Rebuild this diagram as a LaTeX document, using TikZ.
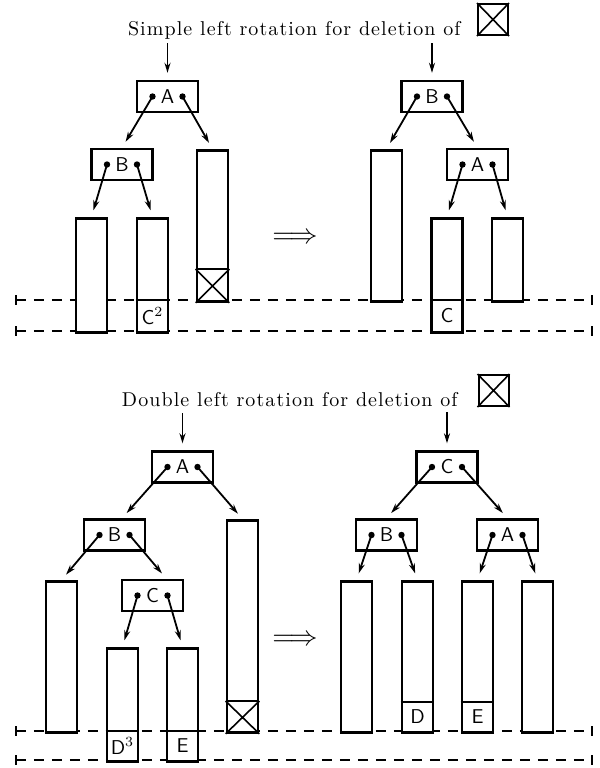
\documentclass[tikz,border=0pt]{standalone}
\usepackage{fontspec}
\usepackage{graphicx}
\newfontfamily\ttlfont[LetterSpace=5.5]{lmroman10-regular.otf}
\usetikzlibrary{arrows.meta,calc}
\tikzset{
  nbox/.style={draw, line width=1.2pt, minimum width=30.5pt, minimum height=15.5pt, inner sep=0pt, font=\sffamily},
  col/.style={draw, fill=white, line width=1.4pt, minimum width=15.5pt, minimum height=#1*0.5pt, inner sep=0pt, anchor=north},
  ptr/.style={-{Stealth[length=5pt,width=3pt]}, line width=0.9pt, shorten >=3.5pt},
  dotc/.style={circle, fill, inner sep=0pt, minimum size=3.2pt},
  sepl/.style={line width=1.4pt},
  xl/.style={line width=0.8pt},
  lvl/.style={line width=1pt, dash pattern=on 5pt off 4pt},
  tick/.style={line width=1pt},
  lbl/.style={font=\sffamily, inner sep=0pt},
  ttl/.style={inner sep=0pt, anchor=base east, font=\ttlfont},
  xbox/.style={draw, line width=1pt, minimum width=15pt, minimum height=15.5pt, inner sep=0pt},
  imp/.style={inner sep=0pt}
}
\begin{document}
\begin{tikzpicture}[x=0.5pt,y=-0.5pt]
\useasboundingbox (0,0) rectangle (600,768);
% level lines
\foreach \yy in {300,331,731,760}{
  \draw[lvl] (16,\yy) -- (592,\yy);
  \draw[tick] (16,\yy-5) -- (16,\yy+5);
  \draw[tick] (592,\yy-5) -- (592,\yy+5);
}
% ===== top title
\node[ttl] (t1) at (461,35) {Simple left rotation for deletion of};
\node[xbox] (x1) at (493,19.5) {};
\draw[xl] (x1.north west) -- (x1.south east) (x1.south west) -- (x1.north east);
% ===== top left tree
\coordinate (in1) at (167.5,43);
\node[nbox] (A1) at (167.5,96.5) {A};
\node[dotc] (A1l) at ([xshift=-7.5pt]A1.center) {};
\node[dotc] (A1r) at ([xshift=7.5pt]A1.center) {};
\node[nbox] (B1) at (122,164.5) {B};
\node[dotc] (B1l) at ([xshift=-7.5pt]B1.center) {};
\node[dotc] (B1r) at ([xshift=7.5pt]B1.center) {};
\node[col=114] (L1) at (91.5,217) {};
\node[col=114] (M1) at (152.5,217) {};
\node[col=151] (R1) at (212.5,149) {};
\draw[sepl] (M1.west |- 0,300) -- (M1.east |- 0,300);
\node[lbl] (lc2) at (152.5,316) {C$^2$};
\draw[sepl] (R1.west |- 0,269) -- (R1.east |- 0,269);
\draw[xl] (R1.west |- 0,269) -- (R1.south east) (R1.south west) -- (R1.east |- 0,269);
\draw[ptr] (in1) -- (A1.north);
\draw[ptr] (A1l.center) -- (B1.north);
\draw[ptr] (A1r.center) -- (R1.north);
\draw[ptr] (B1l.center) -- (L1.north);
\draw[ptr] (B1r.center) -- (M1.north);
\node[imp] (imp1) at (295,238) {\scalebox{1.4}{$\Longrightarrow$}};
% ===== top right tree
\coordinate (in2) at (432,43);
\node[nbox] (B2) at (432,96.5) {B};
\node[dotc] (B2l) at ([xshift=-7.5pt]B2.center) {};
\node[dotc] (B2r) at ([xshift=7.5pt]B2.center) {};
\node[nbox] (A2) at (477.5,164.5) {A};
\node[dotc] (A2l) at ([xshift=-7.5pt]A2.center) {};
\node[dotc] (A2r) at ([xshift=7.5pt]A2.center) {};
\node[col=151] (L2) at (386.5,149) {};
\node[col=114] (M2) at (447,217) {};
\node[col=83] (R2) at (507.5,217) {};
\draw[sepl] (M2.west |- 0,300) -- (M2.east |- 0,300);
\node[lbl] (lc) at (447,316) {C};
\draw[ptr] (in2) -- (B2.north);
\draw[ptr] (B2l.center) -- (L2.north);
\draw[ptr] (B2r.center) -- (A2.north);
\draw[ptr] (A2l.center) -- (M2.north);
\draw[ptr] (A2r.center) -- (R2.north);
% ===== bottom title
\node[ttl] (t2) at (458,406) {Double left rotation for deletion of};
\node[xbox] (x2) at (493.5,390.5) {};
\draw[xl] (x2.north west) -- (x2.south east) (x2.south west) -- (x2.north east);
% ===== bottom left tree
\coordinate (in3) at (182.5,413);
\node[nbox] (A3) at (182.5,467) {A};
\node[dotc] (A3l) at ([xshift=-7.5pt]A3.center) {};
\node[dotc] (A3r) at ([xshift=7.5pt]A3.center) {};
\node[nbox] (B3) at (114.5,535) {B};
\node[dotc] (B3l) at ([xshift=-7.5pt]B3.center) {};
\node[dotc] (B3r) at ([xshift=7.5pt]B3.center) {};
\node[nbox] (C3) at (152.5,595.5) {C};
\node[dotc] (C3l) at ([xshift=-7.5pt]C3.center) {};
\node[dotc] (C3r) at ([xshift=7.5pt]C3.center) {};
\node[col=212] (R3) at (242.5,519) {};
\node[col=151] (L3) at (61.5,580) {};
\node[col=113] (D3) at (122.5,647) {};
\node[col=113] (E3) at (182.5,647) {};
\draw[sepl] (R3.west |- 0,701) -- (R3.east |- 0,701);
\draw[xl] (R3.west |- 0,701) -- (R3.south east) (R3.south west) -- (R3.east |- 0,701);
\draw[sepl] (D3.west |- 0,731) -- (D3.east |- 0,731);
\draw[sepl] (E3.west |- 0,731) -- (E3.east |- 0,731);
\node[lbl] (ld3) at (122.5,746) {D$^3$};
\node[lbl] (le3) at (182.5,746) {E};
\draw[ptr] (in3) -- (A3.north);
\draw[ptr] (A3l.center) -- ([xshift=3.75pt]B3.north);
\draw[ptr] (A3r.center) -- (R3.north);
\draw[ptr] (B3l.center) -- (L3.north);
\draw[ptr] (B3r.center) -- ([xshift=7pt]C3.north);
\draw[ptr] (C3l.center) -- (D3.north);
\draw[ptr] (C3r.center) -- (E3.north);
\node[imp] (imp2) at (295,640) {\scalebox{1.4}{$\Longrightarrow$}};
% ===== bottom right tree
\coordinate (in4) at (447,412);
\node[nbox] (C4) at (447,467) {C};
\node[dotc] (C4l) at ([xshift=-7.5pt]C4.center) {};
\node[dotc] (C4r) at ([xshift=7.5pt]C4.center) {};
\node[nbox] (B4) at (386.5,535) {B};
\node[dotc] (B4l) at ([xshift=-7.5pt]B4.center) {};
\node[dotc] (B4r) at ([xshift=7.5pt]B4.center) {};
\node[nbox] (A4) at (507.5,535) {A};
\node[dotc] (A4l) at ([xshift=-7.5pt]A4.center) {};
\node[dotc] (A4r) at ([xshift=7.5pt]A4.center) {};
\node[col=151] (P4) at (356.5,580) {};
\node[col=151] (Q4) at (417.5,580) {};
\node[col=151] (S4) at (477.5,580) {};
\node[col=151] (T4) at (537.5,580) {};
\draw[sepl] (Q4.west |- 0,702) -- (Q4.east |- 0,702);
\draw[sepl] (S4.west |- 0,702) -- (S4.east |- 0,702);
\node[lbl] (ld4) at (417.5,717) {D};
\node[lbl] (le4) at (477.5,717) {E};
\draw[ptr] (in4) -- (C4.north);
\draw[ptr] (C4l.center) -- (B4.north);
\draw[ptr] (C4r.center) -- (A4.north);
\draw[ptr] (B4l.center) -- (P4.north);
\draw[ptr] (B4r.center) -- (Q4.north);
\draw[ptr] (A4l.center) -- (S4.north);
\draw[ptr] (A4r.center) -- (T4.north);
\end{tikzpicture}
\end{document}
